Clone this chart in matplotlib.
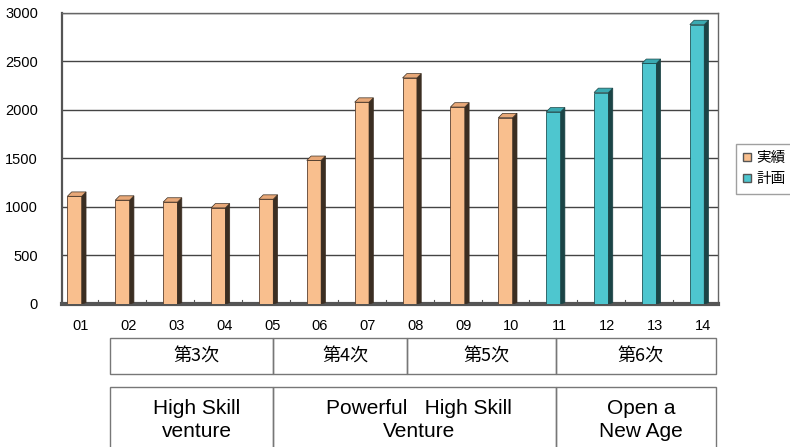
import matplotlib
matplotlib.use("Agg")
import matplotlib.pyplot as plt
from matplotlib.patches import Polygon, Rectangle
from matplotlib.transforms import blended_transform_factory, offset_copy
import numpy as np

plt.rcParams['font.family'] = ['Liberation Sans', 'Noto Sans CJK JP', 'DejaVu Sans']

years = ['01', '02', '03', '04', '05', '06', '07', '08', '09', '10', '11', '12', '13', '14']
actual = [1110, 1070, 1050, 990, 1080, 1480, 2080, 2330, 2030, 1920, None, None, None, None]
plan = [None, None, None, None, None, None, None, None, None, None, 1980, 2180, 2480, 2880]
series_names = ['実績', '計画']

phases = ['第3次', '第4次', '第5次', '第6次']
phase_edges = [0.75, 4.15, 6.95, 10.05, 13.4]
themes = ['High Skill\nventure', 'Powerful   High Skill\nVenture', 'Open a\nNew Age']
theme_edges = [0.75, 4.15, 10.05, 13.4]

front = ['#F9BF8E', '#4EC6CF']
side = ['#3B2E22', '#1B4446']
top = ['#E8A878', '#3AAAB2']

fig = plt.figure(figsize=(7.9, 4.47), dpi=100)
ax = fig.add_axes([0.078, 0.32, 0.831, 0.651])

w = 0.3
dx = 0.09
dy = 45
x = np.arange(len(years))

for k, vals in enumerate([actual, plan]):
    for i, v in enumerate(vals):
        if v is None:
            continue
        ax.bar(x[i], v, width=w, color=front[k], edgecolor='#5a4030' if k == 0 else '#1f5558',
               linewidth=0.6, zorder=3)
        ax.add_patch(Polygon([(x[i] + w / 2, 0), (x[i] + w / 2 + dx, dy * 0.3),
                              (x[i] + w / 2 + dx, v + dy), (x[i] + w / 2, v)],
                             closed=True, facecolor=side[k], edgecolor=side[k], lw=0.5, zorder=3))
        ax.add_patch(Polygon([(x[i] - w / 2, v), (x[i] + w / 2, v),
                              (x[i] + w / 2 + dx, v + dy), (x[i] - w / 2 + dx, v + dy)],
                             closed=True, facecolor=top[k], edgecolor=side[k], lw=0.5, zorder=3))

ax.set_xlim(-0.27, 13.44)
ax.set_ylim(0, 3000)
ax.set_yticks(range(0, 3001, 500))
ax.yaxis.grid(True, color='#444444', linewidth=1.0, zorder=0)
ax.set_axisbelow(True)
ax.tick_params(axis='y', length=0, pad=17, labelsize=10.5)
ax.set_xticks(x)
ax.set_xticklabels(years, fontsize=10.5)
ax.tick_params(axis='x', length=0, pad=11)
for lab in ax.get_xticklabels():
    lab.set_transform(offset_copy(lab.get_transform(), fig=fig, x=6, y=0, units='dots'))
for s in ['top', 'right']:
    ax.spines[s].set_color('#666666')
    ax.spines[s].set_linewidth(1.0)
ax.spines['left'].set_color('#555555')
ax.spines['left'].set_linewidth(1.6)
ax.spines['bottom'].set_color('#555555')
ax.spines['bottom'].set_linewidth(3)

# small boundary ticks on the floor
for b in x[:-1] + 0.5:
    ax.plot([b, b], [0, 40], color='#555555', lw=0.8, zorder=2)

# legend
h1 = plt.Line2D([], [], marker='s', ls='', markersize=5.5, markerfacecolor=front[0], markeredgecolor='#555555')
h2 = plt.Line2D([], [], marker='s', ls='', markersize=5.5, markerfacecolor=front[1], markeredgecolor='#555555')
leg = fig.legend([h1, h2], series_names, loc='upper left', bbox_to_anchor=(0.922, 0.695),
                 frameon=True, fancybox=False, edgecolor='#888888',
                 handlelength=0.6, handletextpad=0.3, borderpad=0.5, labelspacing=0.5,
                 prop={'family': ['Noto Sans CJK JP', 'DejaVu Sans'], 'size': 10.5})

# phase boxes under the axis
tr = blended_transform_factory(ax.transData, fig.transFigure)
row1 = (1 - 374 / 447, 1 - 338 / 447)
for i, name in enumerate(phases):
    ax.add_patch(Rectangle((phase_edges[i], row1[0]), phase_edges[i + 1] - phase_edges[i],
                           row1[1] - row1[0], transform=tr, fill=False, edgecolor='#777777',
                           lw=1.0, clip_on=False))
    ax.text((phase_edges[i] + phase_edges[i + 1]) / 2 + 0.1, 1 - 357 / 447, name, transform=tr,
            ha='center', va='center', fontsize=13,
            family=['Noto Sans CJK JP', 'DejaVu Sans'])

row2 = (1 - 460 / 447, 1 - 387 / 447)
for i, name in enumerate(themes):
    ax.add_patch(Rectangle((theme_edges[i], row2[0]), theme_edges[i + 1] - theme_edges[i],
                           row2[1] - row2[0], transform=tr, fill=False, edgecolor='#777777',
                           lw=1.0, clip_on=False))
    ax.text((theme_edges[i] + theme_edges[i + 1]) / 2 + 0.1, 1 - 420 / 447, name, transform=tr,
            ha='center', va='center', fontsize=15, linespacing=1.25)

fig.savefig('out.png', dpi=100)
